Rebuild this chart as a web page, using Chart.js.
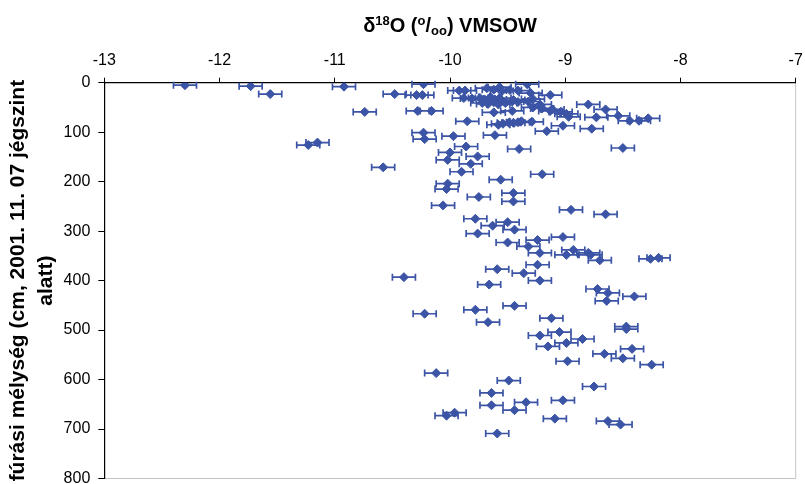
<!DOCTYPE html>
<html>
<head>
<meta charset="utf-8">
<script src="https://cdn.jsdelivr.net/npm/chart.js@4"></script>
<style>
  html, body { margin: 0; padding: 0; background: #fff; }
  #wrap { width: 805px; height: 484px; }
</style>
</head>
<body>
<div id="wrap"><canvas id="isotopeChart"></canvas></div>
<script>
/* delta 18O profile of the ice core, depth below the 2001.11.07 ice level */

var d18O = [
  -12.30, -11.73, -11.56, -10.92, -10.23, -10.48, -10.29, -10.24, -10.74, -10.28,
  -10.16, -11.23, -11.15, -10.23, -10.22, -10.58,
  -9.33, -9.92, -9.87, -9.68, -9.62, -9.57, -9.55, -9.41, -9.30, -9.13,
  -9.88, -9.81, -9.74, -9.70, -9.65, -9.61, -9.57, -9.72, -9.67, -9.62,
  -9.58, -9.52, -9.46, -9.41, -9.32, -9.22, -9.13, -9.46, -9.04, -8.99,
  -9.85, -9.58, -9.54, -9.49, -9.45, -9.41, -9.38, -9.29, -9.16, -9.97,
  -9.61, -8.80, -8.65, -8.73, -8.54, -8.44, -8.36, -8.28, -9.02, -8.77,
  -8.97, -9.28, -9.20, -9.11, -9.28, -9.62, -9.48, -9.45,
  -9.86, -9.40, -8.50, -10.00, -9.76, -10.02, -9.82, -9.90, -9.20, -9.56,
  -10.02, -10.03, -9.45, -9.45, -9.75, -10.06, -8.95, -8.65, -9.78, -9.50,
  -9.63, -9.44, -9.76, -9.24, -9.02, -9.50,
  -9.32, -9.22, -8.99, -8.93, -8.80, -8.78, -8.70, -8.26, -8.19, -9.24,
  -9.59, -9.36, -10.40, -9.22, -9.66, -8.72, -8.63, -8.64, -8.40, -9.44,
  -9.78, -10.22, -9.67, -9.12, -8.47, -8.47, -9.05, -9.22, -8.85, -8.99,
  -9.15, -8.42, -8.66, -8.50, -8.98, -8.25,
  -10.12, -9.49, -8.75, -9.64, -9.02, -9.34, -9.64, -9.44, -9.96, -10.03,
  -9.09, -8.63, -8.52, -9.59
];

var depth = [
  5, 7, 23, 8, 3, 23, 25, 25, 59, 57,
  57, 126, 121, 101, 114, 171,
  3, 16, 16, 11, 14, 9, 17, 16, 21, 25,
  31, 32, 31, 34, 29, 34, 31, 41, 43, 39,
  44, 41, 38, 39, 38, 44, 57, 57, 59, 63,
  78, 85, 83, 81, 81, 80, 78, 79, 98, 108,
  106, 44, 54, 70, 67, 77, 77, 72, 87, 93,
  69, 33, 52, 54, 50, 60, 15, 35,
  129, 134, 132, 141, 149, 156, 164, 180, 185, 196,
  204, 215, 223, 240, 231, 248, 257, 266, 275, 282,
  289, 297, 305, 318, 312, 323,
  331, 344, 348, 338, 344, 348, 359, 356, 354, 368,
  377, 385, 393, 400, 408, 417, 425, 441, 432, 451,
  459, 467, 484, 476, 493, 498, 504, 511, 518, 526,
  533, 538, 548, 557, 563, 570,
  587, 602, 614, 627, 642, 646, 652, 662, 667, 673,
  679, 684, 691, 709
];

var err = 0.1;            // +/- analytical error, permil
var xRange = [-13, -7];
var depthRange = [0, 800];

var blue = '#3b54a5';
var family = '"Liberation Sans", Arial, sans-serif';

var points = d18O.map(function (v, i) { return { x: v, y: depth[i] }; });

// horizontal error bars with end caps
var errorBars = {
  id: 'errorBars',
  beforeDatasetsDraw: function (chart) {
    var ctx = chart.ctx, xs = chart.scales.x, ys = chart.scales.y;
    ctx.save();
    ctx.strokeStyle = blue;
    ctx.lineWidth = 1.7;
    ctx.beginPath();
    points.forEach(function (p) {
      var x0 = xs.getPixelForValue(p.x - err);
      var x1 = xs.getPixelForValue(p.x + err);
      var y = ys.getPixelForValue(p.y);
      ctx.moveTo(x0, y); ctx.lineTo(x1, y);
      ctx.moveTo(x0, y - 3.5); ctx.lineTo(x0, y + 3.5);
      ctx.moveTo(x1, y - 3.5); ctx.lineTo(x1, y + 3.5);
    });
    ctx.stroke();
    ctx.restore();
  }
};

// grey frame on the right and bottom of the plot area
var frame = {
  id: 'frame',
  beforeDraw: function (chart) {
    var ctx = chart.ctx, a = chart.chartArea;
    ctx.save();
    ctx.strokeStyle = '#c4c4c4';
    ctx.lineWidth = 1;
    ctx.beginPath();
    ctx.moveTo(a.right, a.top);
    ctx.lineTo(a.right, a.bottom);
    ctx.lineTo(a.left, a.bottom);
    ctx.stroke();
    ctx.restore();
  }
};

// x axis title with super- and subscripts
var topTitle = {
  id: 'topTitle',
  afterDraw: function (chart) {
    var ctx = chart.ctx, a = chart.chartArea;
    var parts = [
      ['\u03b4', 20, 0], ['18', 13, -7], ['O (', 20, 0], ['o', 13, -7],
      ['/', 20, 0], ['oo', 13, 3], [') VMSOW', 20, 0]
    ];
    ctx.save();
    ctx.fillStyle = '#000';
    ctx.textBaseline = 'alphabetic';
    ctx.textAlign = 'left';
    var total = 0;
    parts.forEach(function (p) {
      ctx.font = 'bold ' + p[1] + 'px ' + family;
      total += ctx.measureText(p[0]).width;
    });
    var x = (a.left + a.right) / 2 - total / 2;
    var base = 31.5;
    parts.forEach(function (p) {
      ctx.font = 'bold ' + p[1] + 'px ' + family;
      ctx.fillText(p[0], x, base + p[2]);
      x += ctx.measureText(p[0]).width;
    });
    ctx.restore();
  }
};

new Chart(document.getElementById('isotopeChart'), {
  type: 'scatter',
  data: {
    datasets: [{
      data: points,
      pointStyle: 'rectRot',
      pointRadius: 4.5,
      pointHoverRadius: 4.5,
      backgroundColor: blue,
      borderColor: blue,
      borderWidth: 1
    }]
  },
  options: {
    responsive: true,
    maintainAspectRatio: false,
    animation: false,
    layout: { padding: { top: 0, right: 9.3, bottom: 5, left: 0 } },
    plugins: {
      legend: { display: false },
      tooltip: { enabled: false }
    },
    scales: {
      x: {
        type: 'linear',
        position: 'top',
        min: xRange[0],
        max: xRange[1],
        ticks: { stepSize: 1, color: '#000', padding: 8, font: { family: family, size: 16 } },
        grid: { drawOnChartArea: false, drawTicks: true, tickLength: 5, color: '#000' },
        border: { color: '#000', width: 1.2 },
        afterFit: function (s) {
          s.height = 82.7;
          s.paddingLeft = 0;
          s.paddingRight = 0;
        }
      },
      y: {
        type: 'linear',
        reverse: true,
        min: depthRange[0],
        max: depthRange[1],
        ticks: { stepSize: 100, color: '#000', padding: 8, font: { family: family, size: 16 } },
        grid: { drawOnChartArea: false, drawTicks: true, tickLength: 6, color: '#000' },
        border: { color: '#000', width: 1.2 },
        title: {
          display: true,
          text: ['f\u00far\u00e1si m\u00e9lys\u00e9g (cm, 2001. 11. 07 j\u00e9gszint', 'alatt)'],
          color: '#000',
          padding: { top: 4, bottom: 0 },
          font: { family: family, size: 21, weight: 'bold', lineHeight: 1.35 }
        },
        afterFit: function (s) {
          s.width = 104.3;
          s.paddingTop = 0;
          s.paddingBottom = 0;
        }
      }
    }
  },
  plugins: [frame, errorBars, topTitle]
});
</script>
</body>
</html>
